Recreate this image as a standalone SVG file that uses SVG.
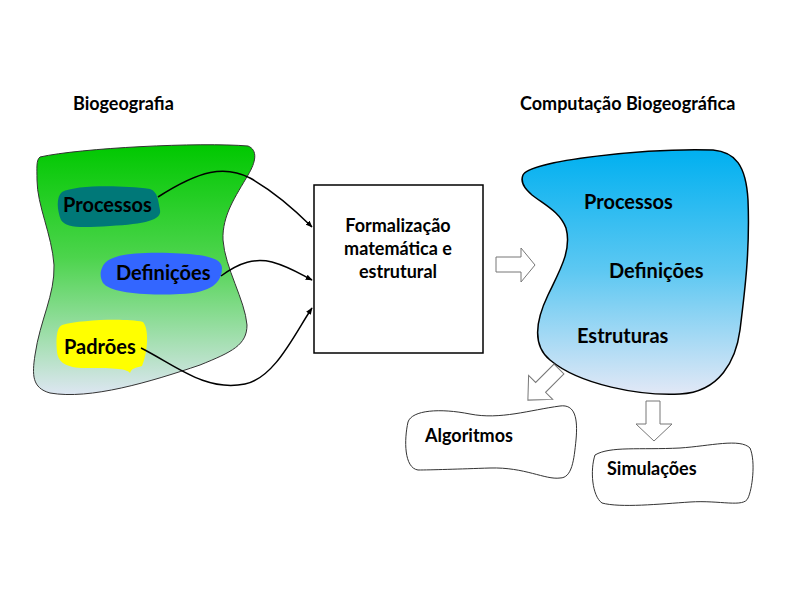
<svg xmlns="http://www.w3.org/2000/svg" width="800" height="600" viewBox="0 0 800 600">
<defs>
<linearGradient id="gGreen" x1="0" y1="0" x2="0" y2="1">
<stop offset="0" stop-color="#00c800"/>
<stop offset="0.45" stop-color="#4cd44c"/>
<stop offset="1" stop-color="#dde6f2"/>
</linearGradient>
<linearGradient id="gBlue" x1="0" y1="0" x2="0" y2="1">
<stop offset="0" stop-color="#00b0f0"/>
<stop offset="0.5" stop-color="#5ec8f2"/>
<stop offset="1" stop-color="#e2e8f6"/>
</linearGradient>
<marker id="ah" viewBox="0 0 10 10" refX="9" refY="5" markerWidth="7" markerHeight="7" orient="auto" markerUnits="userSpaceOnUse">
<path d="M0,1 L10,5 L0,9 z" fill="#000"/>
</marker>
<style>
text{font-family:Lato,"Open Sans","Liberation Sans",sans-serif;font-weight:bold;fill:#000}
.t20{font-size:20px}
.t18{font-size:18px}
.hollow{fill:#fff;stroke:#777;stroke-width:1}
.cloud{fill:#fff;stroke:#333;stroke-width:1}
.conn{fill:none;stroke:#000;stroke-width:1.5;marker-end:url(#ah)}
</style>
</defs>
<rect width="800" height="600" fill="#fff"/>

<text class="t18" x="73" y="110">Biogeografia</text>
<text class="t18" x="520" y="110">Computação Biogeográfica</text>

<g id="biogeografia">
<path d="M40,157 C80,148 200,142 248,146 C258,150 256,162 248,175 C236,196 222,215 223,240 C225,268 245,300 247,325 C247,345 232,352 200,365 C150,382 90,400 50,393 C32,388 32,375 35,355 C40,320 55,295 54,265 C52,235 37,205 37,180 C37,168 36,160 40,157 Z" fill="url(#gGreen)" stroke="#333" stroke-width="1"/>
</g>

<g id="processos">
<path d="M62,192 C75,185 120,185 150,189 C158,192 158,200 160,210 C162,220 145,224 110,226 C80,228 66,228 61,220 C57,210 56,197 62,192 Z" fill="#007878"/>
<text class="t20" x="63" y="212">Processos</text>
</g>

<g id="definicoes">
<path d="M102,268 C106,255 130,252 170,253 C205,254 222,258 222,268 C222,282 212,293 180,294 C140,296 110,292 103,283 C100,278 100,272 102,268 Z" fill="#3366ff"/>
<text class="t20" x="116" y="280">Definições</text>
</g>

<g id="padroes">
<path d="M62,325 C80,320 125,318 143,322 C150,330 147,355 142,366 C135,368 132,368 130,373 C126,368 110,368 85,368 C66,368 58,362 57,352 C56,340 56,328 62,325 Z" fill="#ffff00"/>
<text class="t20" x="64" y="354">Padrões</text>
</g>

<g id="formalizacao">
<rect x="314" y="185" width="169" height="168" fill="#fff" stroke="#000" stroke-width="1.5"/>
<text class="t18" x="398" y="232" text-anchor="middle">Formalização</text>
<text class="t18" x="398" y="255" text-anchor="middle">matemática e</text>
<text class="t18" x="398" y="278" text-anchor="middle">estrutural</text>
</g>

<g id="computacao">
<path d="M523,175 C530,160 650,148 713,150 C735,152 746,165 748,200 C750,250 745,290 740,330 C736,360 720,392 680,394 C640,396 580,385 550,360 C532,345 536,320 548,295 C560,270 572,250 566,228 C560,212 545,205 532,195 C524,188 520,182 523,175 Z" fill="url(#gBlue)" stroke="#000" stroke-width="1.5"/>
<text class="t20" x="584" y="209">Processos</text>
<text class="t20" x="609" y="278">Definições</text>
<text class="t20" x="577" y="343">Estruturas</text>
</g>

<g id="algoritmos">
<path d="M408,422 C412,410 440,408 470,414 C500,420 530,410 560,406 C575,404 578,418 576,440 C574,460 572,478 560,478 C545,480 525,467 490,468 C460,469 430,470 418,470 C404,468 404,440 408,422 Z" class="cloud"/>
<text class="t18" x="425" y="442">Algoritmos</text>
</g>

<g id="simulacoes">
<path d="M595,455 C610,446 640,450 680,448 C710,446 740,438 750,448 C756,462 752,490 748,498 C744,508 720,500 690,502 C660,504 620,508 602,503 C592,496 590,470 595,455 Z" class="cloud"/>
<text class="t18" x="607" y="475">Simulações</text>
</g>

<g id="connectors">
<path class="conn" d="M158,197 C200,170 225,165 250,178 C275,192 295,210 312,227"/>
<path class="conn" d="M221,276 C240,262 255,258 272,262 C290,267 300,274 312,280"/>
<path class="conn" d="M141,348 C175,365 205,392 245,384 C275,378 295,333 312,308"/>
<path class="hollow" d="M496,257 L521,257 L521,248 L535,265 L521,282 L521,272 L496,272 Z"/>
<path class="hollow" d="M0,-7 L26,-7 L26,-17 L44,0 L26,17 L26,7 L0,7 Z" transform="translate(559,369) rotate(135)"/>
<path class="hollow" d="M646,401 L660,401 L660,424 L672,424 L654,441 L636,424 L646,424 Z"/>
</g>
</svg>
